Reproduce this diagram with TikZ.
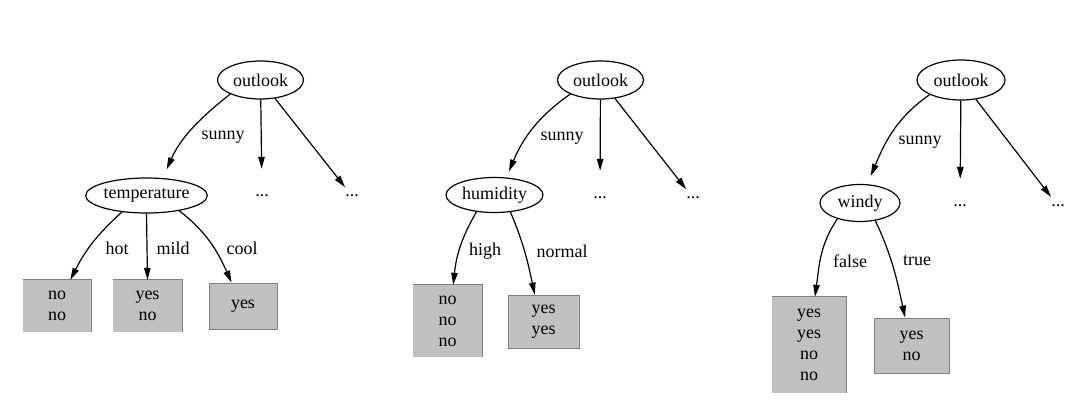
\documentclass[tikz,border=0pt]{standalone}
\usepackage{fontspec}
\setmainfont{Liberation Serif}
\usetikzlibrary{shapes.geometric,arrows.meta}
\definecolor{boxgray}{RGB}{192,192,192}
\definecolor{edgegray}{RGB}{128,128,128}
\begin{document}
\begin{tikzpicture}[x=1pt,y=1pt,
  every node/.style={font=\fontsize{18}{21}\selectfont},
  arr/.style={draw, line width=1.2pt, -{Triangle[length=12pt,width=6.5pt]}},
  ell/.style={ellipse, draw, line width=1.2pt, inner sep=0pt},
  leaf/.style={fill=boxgray, inner sep=0pt, align=center},
  leafall/.style={leaf, draw=edgegray, line width=0.8pt},
  dots/.style={inner sep=0pt, minimum height=54pt},
  lbl/.style={inner sep=0pt},
  edgeline/.style={draw=edgegray, line width=0.8pt}]
\useasboundingbox (0,0) rectangle (1089,-410);

% ---------- tree 1 ----------
\node[ell, minimum width=86pt, minimum height=38pt] (o1) at (260.5,-80) {outlook};
\node[ell, minimum width=113pt, minimum height=35pt] (t1) at (146.5,-195.5) {temperature};
\node[dots] (d1a) at (262,-196) {...};
\node[dots] (d1b) at (352,-196) {...};
\node[leaf, minimum width=68pt, minimum height=52pt] (b1a) at (57,-306) {no\\no};
\node[leaf, minimum width=69pt, minimum height=52pt] (b1b) at (147.5,-306) {yes\\no};
\node[leafall, minimum width=68pt, minimum height=46pt] (b1c) at (243,-306) {yes};
\draw[edgeline] (b1a.north west) -- (b1a.north east) -- (b1a.south east);
\draw[edgeline] (b1b.north west) -- (b1b.north east) -- (b1b.south east);
\node[lbl] (s1) at (223,-137) {sunny};
\node[lbl] (l1a) at (117,-248) {hot};
\node[lbl] (l1b) at (173,-248) {mild};
\node[lbl] (l1c) at (242,-248) {cool};
\draw[arr, shorten >=9.5pt] (o1.205) to[out=218,in=66] (t1.47);
\draw[arr] (o1) -- (d1a);
\draw[arr] (o1) -- (d1b);
\draw[arr] (t1.214) to[out=222,in=63] (b1a.63);
\draw[arr] (t1.south) -- (b1b.north);
\draw[arr] (t1.335) to[out=322,in=114] (b1c.116);

% ---------- tree 2 ----------
\node[ell, minimum width=86pt, minimum height=38pt] (o2) at (600.5,-80) {outlook};
\node[ell, minimum width=97pt, minimum height=35pt] (h2) at (494.5,-195) {humidity};
\node[dots] (d2a) at (600,-198) {...};
\node[dots] (d2b) at (693,-198) {...};
\node[leaf, minimum width=69pt, minimum height=72pt] (b2a) at (447.5,-321) {no\\no\\no};
\node[leafall, minimum width=71pt, minimum height=53pt] (b2b) at (543.5,-321.5) {yes\\yes};
\draw[edgeline] (b2a.north west) -- (b2a.north east) -- (b2a.south east);
\node[lbl] (s2) at (562,-138) {sunny};
\node[lbl] (l2a) at (485,-251) {high};
\node[lbl] (l2b) at (562,-251) {normal};
\draw[arr, shorten >=6.5pt] (o2.205) to[out=215,in=67] (h2.56);
\draw[arr] (o2) -- (d2a);
\draw[arr] (o2) -- (d2b);
\draw[arr] (h2.223) to[out=240,in=84] (b2a.81);
\draw[arr] (h2.313) to[out=293,in=102] (b2b.108);

% ---------- tree 3 ----------
\node[ell, minimum width=88pt, minimum height=40pt] (o3) at (961,-80) {outlook};
\node[ell, minimum width=80pt, minimum height=37pt] (w3) at (860,-203) {windy};
\node[dots] (d3a) at (960,-206) {...};
\node[dots] (d3b) at (1058,-206) {...};
\node[leaf, minimum width=74pt, minimum height=96pt] (b3a) at (809,-345) {yes\\yes\\no\\no};
\node[leafall, minimum width=75pt, minimum height=55pt] (b3b) at (911.5,-345.5) {yes\\no};
\draw[edgeline] (b3a.north west) -- (b3a.north east) -- (b3a.south east);
\node[lbl] (s3) at (920,-142) {sunny};
\node[lbl] (l3a) at (850,-261) {false};
\node[lbl] (l3b) at (917,-261) {true};
\draw[arr, shorten >=9pt] (o3.205) to[out=215,in=67] (w3.69);
\draw[arr] (o3) -- (d3a);
\draw[arr] (o3) -- (d3b);
\draw[arr] (w3.215) to[out=236,in=82] (b3a.83);
\draw[arr] (w3.311) to[out=295,in=102] (b3b.103);
\end{tikzpicture}
\end{document}
